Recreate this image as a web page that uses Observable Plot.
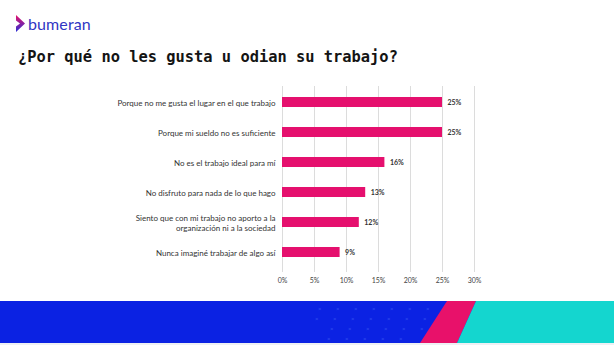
<!DOCTYPE html>
<html><head><meta charset="utf-8">
<script src="https://cdn.jsdelivr.net/npm/d3@7"></script>
<script src="https://cdn.jsdelivr.net/npm/@observablehq/plot@0.6"></script>
<style>
html,body{margin:0;padding:0;background:#fff;}
#wrap{position:relative;width:614px;height:345px;overflow:hidden;background:#fff;}
#logo{position:absolute;left:16px;top:12px;height:22px;display:flex;align-items:center;}
#logo .txt{font-family:Lato,sans-serif;font-size:16px;color:#3136c4;margin-left:3px;letter-spacing:0.1px;}
#title{position:absolute;left:18px;top:48px;font-family:"DejaVu Sans Mono",monospace;font-weight:bold;font-size:15.4px;color:#141414;white-space:nowrap;}
#chart{position:absolute;left:0;top:78px;}
#band{position:absolute;left:0;top:301px;width:614px;height:42px;background:#0b22e3;}
#band .pink{position:absolute;inset:0;background:#e8116a;clip-path:polygon(447px 0,476px 0,457px 42px,420px 42px);}
#band .cyan{position:absolute;inset:0;background:#14d6cf;clip-path:polygon(476px 0,614px 0,614px 42px,457px 42px);}
#band .xs{position:absolute;inset:0;}
#foot{position:absolute;left:0;top:343px;width:614px;height:2px;background:#eef0f4;}
</style></head>
<body><div id="wrap">
<div id="logo"><svg width="9" height="17" viewBox="0 0 9 17"><defs><linearGradient id="g" x1="0" y1="0" x2="0" y2="1"><stop offset="0" stop-color="#e8116a"/><stop offset="1" stop-color="#2a2fd6"/></linearGradient></defs><path d="M0 0 L9 8.5 L0 17 L0 11.5 L4 8.5 L0 5.5Z" fill="url(#g)"/></svg><span class="txt">bumeran</span></div>
<div id="title">¿Por qué no les gusta u odian su trabajo?</div>
<div id="chart"></div>
<div id="band"><div class="pink"></div><div class="cyan"></div><svg class="xs" width="614" height="42"></svg></div>
<div id="foot"></div>
</div>
<script>
const categories = [
  "Porque no me gusta el lugar en el que trabajo",
  "Porque mi sueldo no es suficiente",
  "No es el trabajo ideal para mí",
  "No disfruto para nada de lo que hago",
  "Siento que con mi trabajo no aporto a la organización ni a la sociedad",
  "Nunca imaginé trabajar de algo así"
];
const labels = [
  "Porque no me gusta el lugar en el que trabajo",
  "Porque mi sueldo no es suficiente",
  "No es el trabajo ideal para mí",
  "No disfruto para nada de lo que hago",
  "Siento que con mi trabajo no aporto a la\norganización ni a la sociedad",
  "Nunca imaginé trabajar de algo así"
];
const values = [25, 25, 16, 13, 12, 9];
const xTicks = [0, 5, 10, 15, 20, 25, 30];

const data = categories.map((c, i) => ({cat: c, label: labels[i], value: values[i]}));

const chart = Plot.plot({
  width: 614,
  height: 215,
  marginTop: 8,
  marginBottom: 24,
  marginLeft: 282,
  marginRight: 140,
  style: {fontFamily: "Lato, sans-serif", background: "transparent"},
  x: {domain: [0, 30], ticks: xTicks},
  y: {domain: categories, paddingInner: 0.66, paddingOuter: 0.33, axis: null},
  marks: [
    Plot.ruleX(xTicks, {stroke: "#dcdcdc", strokeWidth: 1}),
    Plot.axisX({ticks: xTicks, tickFormat: d => d + "%", tickSize: 3, tickPadding: 6, stroke: "#dcdcdc", fill: "#444", fontSize: 7, label: null}),
    Plot.barX(data, {x: "value", y: "cat", fill: "#e5106e"}),
    Plot.text(data, {x: "value", y: "cat", text: d => d.value + "%", dx: 5, textAnchor: "start", fontSize: 7, fontWeight: "bold", fill: "#333"}),
    Plot.text(data, {x: 0, y: "cat", text: "label", dx: -7, textAnchor: "end", fontSize: 8, fill: "#333", lineHeight: 1.3})
  ]
});
document.getElementById("chart").appendChild(chart);

// faint x pattern on band
const xs = d3.select("#band svg.xs");
for (let r = 0; r < 4; r++) {
  for (let c = 0; c < 7; c++) {
    const x = 318 + c * 18 + r * 6 - (r % 2) * 9;
    const y = 6 + r * 10;
    if (x > 440 - r * 8) continue;
    xs.append("text").attr("x", x).attr("y", y + 4).attr("font-size", 6).attr("fill", "#3a55f0").attr("font-family", "Lato").text("×");
  }
}
</script>
</body></html>
